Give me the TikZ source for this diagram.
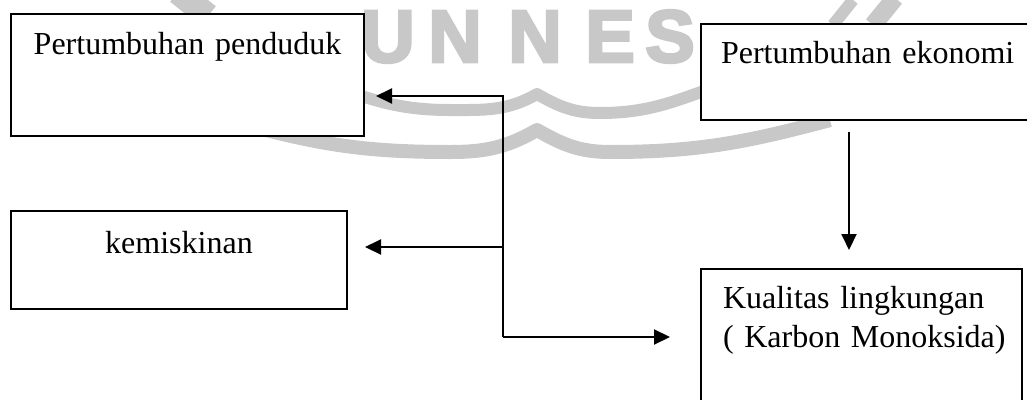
\documentclass[tikz,border=0pt]{standalone}
\usepackage{fontspec}
\setmainfont{Liberation Serif}
\newfontfamily\wmfont[FakeBold=4]{Liberation Sans Bold}
\usetikzlibrary{arrows.meta}
\definecolor{wmgray}{RGB}{200,200,200}
\begin{document}
\begin{tikzpicture}[x=1pt,y=-1pt,>={Triangle[length=16pt,width=15pt]},line width=2pt,
	box/.style={draw,fill=white,inner ysep=0pt,anchor=north west,font=\fontsize{32}{39}\selectfont},
	wm/.style={wmgray,line width=12pt,line join=round},
	wmletter/.style={text=wmgray,font=\wmfont\fontsize{74}{74}\selectfont,anchor=base}]
	\useasboundingbox (0,0) rectangle (1027,399);
	\clip (0,0) rectangle (1027,399);
	\foreach \l/\x in {U/388,N/455,N/535,E/610,S/670} \node[wmletter] (w\x) at (\x,62) {\l};
	\draw[wm] (330,85) to[out=-20,in=180] (450,110) to[out=0,in=210] (537,94) to[out=-30,in=180] (600,113) to[out=0,in=200] (720,85);
	\draw[wm,line width=14pt] (247,125) to[out=-15,in=180] (450,152) to[out=0,in=210] (537,130) to[out=-30,in=180] (610,152) to[out=0,in=195] (830,120);
	\draw[wm,line width=25pt] (178,-8) -- (208,16);
	\draw[wm] (853,0) -- (833,25);
	\draw[wm,line width=18pt] (895,-2) -- (873,25);
	\node[box,text width=353pt,inner xsep=0pt,align=center,text height=40pt,text depth=82pt] (pen) at (10,13) {Pertumbuhan penduduk};
	\node[box,text width=300pt,inner xsep=20pt,align=left,text height=39pt,text depth=57pt] (eko) at (700,23) {Pertumbuhan ekonomi};
	\node[box,text width=336pt,inner xsep=0pt,align=center,text height=42pt,text depth=56pt] (kem) at (10,210) {kemiskinan};
	\node[box,text width=277pt,inner xsep=22pt,align=left,text height=39pt,text depth=120pt] (kual) at (700,268) {Kualitas lingkungan\\\mbox{( Karbon Monoksida)}};
	\coordinate (top) at (503,96);
	\coordinate (mid) at (503,247);
	\coordinate (bot) at (503,337);
	\draw[->,shorten >=11pt] (bot) -- (top) -- (top -| pen.east);
	\draw[->,shorten >=17pt] (mid) -- (mid -| kem.east);
	\draw[->,shorten >=30pt] (bot) -- (bot -| kual.west);
	\draw[->,shorten <=11pt,shorten >=18pt] (849,0 |- eko.south) -- (849,0 |- kual.north);
\end{tikzpicture}
\end{document}
